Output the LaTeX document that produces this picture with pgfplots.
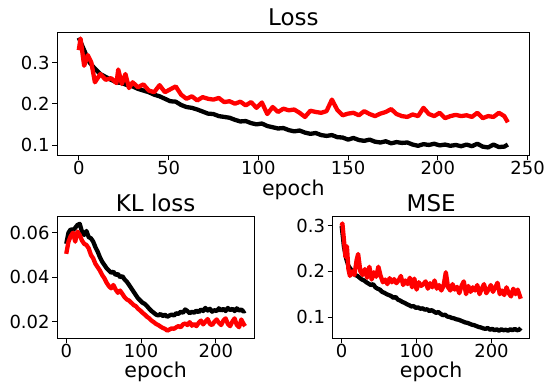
\documentclass[border=0pt]{standalone}
\usepackage{pgfplots}
\pgfplotsset{compat=1.18}
\usepackage{fontspec}
\setmainfont{DejaVu Sans}
\pgfplotsset{
  myax/.style={
    scale only axis,
    anchor=south west,
    scaled ticks=false,
    axis line style={line width=0.8pt},
    tick style={line width=0.8pt, black},
    tick align=outside,
    major tick length=5pt,
    xtick pos=bottom, ytick pos=left,
    xmin=-11.95, xmax=250.95,
    xticklabel style={font=\fontsize{18}{20}\selectfont, anchor=base, inner sep=0pt, yshift=-14.5pt},
    yticklabel style={font=\fontsize{18}{20}\selectfont, anchor=east, inner sep=0pt, xshift=-2.5pt},
    title style={font=\fontsize{23}{26}\selectfont, at={(axis description cs:0.5,1)}, anchor=base, inner sep=0pt, yshift=-1pt},
    xlabel style={font=\fontsize{20.5}{24}\selectfont, at={(axis description cs:0.5,0)}, anchor=base, inner sep=0pt, yshift=-38.7pt},
    xlabel=epoch,
    every axis plot/.append style={line width=4.3pt, line join=round, no marks},
  }
}
\begin{document}
\begin{tikzpicture}
\useasboundingbox (0,0) rectangle (548pt,383pt);
% ---------------- Loss ----------------
\begin{axis}[myax, at={(57.3pt,228pt)}, width=472pt, height=123pt,
  ymin=0.0757, ymax=0.3739,
  xtick={0,50,100,150,200,250}, xticklabels={0,50,100,150,200,250},
  ytick={0.1,0.2,0.3}, yticklabels={0.1,0.2,0.3},
  title=Loss, title style={yshift=1.6pt}, xlabel style={yshift=-2pt}]
\addplot[black] coordinates {
(0,0.360)(3,0.330)(6,0.300)(9,0.285)(12,0.272)(15,0.265)(18,0.258)(21,0.252)(24,0.250)(27,0.245)
(30,0.242)(33,0.236)(36,0.232)(39,0.228)(42,0.222)(45,0.218)(48,0.212)(51,0.206)(54,0.205)(57,0.197)
(60,0.192)(63,0.190)(66,0.186)(69,0.181)(72,0.176)(75,0.175)(78,0.170)(81,0.168)(84,0.166)(87,0.161)
(90,0.157)(93,0.158)(96,0.153)(99,0.150)(102,0.152)(105,0.146)(108,0.143)(111,0.140)(114,0.141)(117,0.136)
(120,0.133)(123,0.135)(126,0.130)(129,0.127)(132,0.129)(135,0.124)(138,0.122)(141,0.124)(144,0.119)(147,0.118)
(150,0.113)(153,0.117)(156,0.112)(159,0.110)(162,0.113)(165,0.108)(168,0.106)(171,0.109)(174,0.104)(177,0.107)
(180,0.105)(183,0.106)(186,0.101)(189,0.098)(192,0.102)(195,0.100)(198,0.103)(201,0.099)(204,0.101)(207,0.098)
(210,0.100)(213,0.097)(216,0.101)(219,0.097)(222,0.103)(225,0.096)(228,0.094)(231,0.101)(234,0.095)(237,0.096)
(239,0.101)};
\addplot[red] coordinates {
(0,0.330)(1,0.358)(3,0.292)(5,0.318)(7,0.300)(9,0.252)(12,0.272)(15,0.258)(18,0.262)(21,0.250)
(22,0.283)(24,0.248)(26,0.272)(28,0.238)(30,0.252)(33,0.240)(36,0.247)(39,0.232)(42,0.228)(45,0.245)
(48,0.228)(51,0.235)(54,0.242)(57,0.222)(60,0.212)(63,0.218)(66,0.208)(69,0.216)(72,0.212)(75,0.210)
(78,0.214)(81,0.204)(84,0.206)(87,0.200)(90,0.205)(93,0.196)(96,0.204)(99,0.190)(102,0.203)(105,0.175)
(108,0.192)(111,0.180)(114,0.188)(117,0.184)(120,0.186)(123,0.178)(126,0.168)(129,0.183)(132,0.180)(135,0.178)
(138,0.182)(141,0.210)(144,0.185)(147,0.172)(150,0.176)(153,0.178)(156,0.172)(159,0.182)(162,0.175)(165,0.170)
(168,0.176)(171,0.180)(174,0.187)(177,0.175)(180,0.170)(183,0.168)(186,0.174)(189,0.170)(192,0.190)(195,0.175)
(198,0.170)(201,0.178)(204,0.165)(207,0.170)(210,0.173)(213,0.170)(216,0.172)(219,0.168)(222,0.178)(225,0.165)
(228,0.170)(231,0.168)(234,0.178)(237,0.170)(239,0.155)};
\end{axis}
% ---------------- KL loss ----------------
\begin{axis}[myax, at={(57.3pt,44.7pt)}, width=196.7pt, height=121.6pt,
  ymin=0.01254, ymax=0.0672,
  xtick={0,100,200}, xticklabels={0,100,200},
  ytick={0.02,0.04,0.06}, yticklabels={0.02,0.04,0.06},
  title=KL loss]
\addplot[black] coordinates {
(0,0.0550)(3,0.0600)(6,0.0615)(9,0.0612)(12,0.0622)(15,0.0635)(18,0.0640)(21,0.0605)(24,0.0590)(27,0.0608)
(30,0.0580)(33,0.0575)(36,0.0560)(39,0.0535)(42,0.0515)(45,0.0490)(48,0.0470)(51,0.0455)(54,0.0440)(57,0.0430)
(60,0.0420)(63,0.0425)(66,0.0410)(69,0.0415)(72,0.0400)(75,0.0405)(78,0.0390)(81,0.0380)(84,0.0365)(87,0.0350)
(90,0.0335)(93,0.0320)(96,0.0305)(99,0.0295)(102,0.0285)(105,0.0280)(108,0.0270)(111,0.0258)(114,0.0248)(117,0.0240)
(120,0.0232)(123,0.0228)(126,0.0235)(129,0.0225)(132,0.0232)(135,0.0222)(138,0.0228)(141,0.0232)(144,0.0228)(147,0.0238)
(150,0.0235)(153,0.0245)(156,0.0240)(159,0.0255)(162,0.0248)(165,0.0238)(168,0.0245)(171,0.0240)(174,0.0250)(177,0.0243)
(180,0.0255)(183,0.0248)(186,0.0262)(189,0.0250)(192,0.0258)(195,0.0245)(198,0.0252)(201,0.0248)(204,0.0260)(207,0.0250)
(210,0.0258)(213,0.0248)(216,0.0262)(219,0.0252)(222,0.0258)(225,0.0248)(228,0.0260)(231,0.0250)(234,0.0255)(237,0.0245)
(239,0.0250)};
\addplot[red] coordinates {
(0,0.0505)(3,0.0560)(6,0.0585)(9,0.0600)(12,0.0560)(15,0.0605)(18,0.0590)(21,0.0565)(24,0.0550)(27,0.0545)
(30,0.0530)(33,0.0500)(36,0.0485)(39,0.0460)(42,0.0445)(45,0.0430)(48,0.0410)(51,0.0395)(54,0.0375)(57,0.0360)
(60,0.0350)(63,0.0365)(66,0.0345)(69,0.0330)(72,0.0340)(75,0.0325)(78,0.0310)(81,0.0300)(84,0.0295)(87,0.0285)
(90,0.0275)(93,0.0270)(96,0.0258)(99,0.0250)(102,0.0240)(105,0.0232)(108,0.0222)(111,0.0215)(114,0.0205)(117,0.0198)
(120,0.0190)(123,0.0185)(126,0.0178)(129,0.0172)(132,0.0168)(135,0.0160)(138,0.0165)(141,0.0170)(144,0.0168)(147,0.0175)
(150,0.0180)(153,0.0175)(156,0.0188)(159,0.0192)(162,0.0185)(165,0.0198)(168,0.0182)(171,0.0190)(174,0.0180)(177,0.0195)
(180,0.0205)(183,0.0188)(186,0.0200)(189,0.0212)(192,0.0190)(195,0.0185)(198,0.0200)(201,0.0210)(204,0.0195)(207,0.0185)
(210,0.0205)(213,0.0215)(216,0.0190)(219,0.0180)(222,0.0200)(225,0.0215)(228,0.0185)(231,0.0175)(234,0.0210)(237,0.0190)
(239,0.0180)};
\end{axis}
% ---------------- MSE ----------------
\begin{axis}[myax, at={(332.7pt,44.7pt)}, width=197pt, height=121.6pt,
  ymin=0.0533, ymax=0.3197,
  xtick={0,100,200}, xticklabels={0,100,200},
  ytick={0.1,0.2,0.3}, yticklabels={0.1,0.2,0.3},
  title=MSE]
\addplot[black] coordinates {
(0,0.300)(3,0.255)(6,0.228)(9,0.212)(12,0.205)(15,0.198)(18,0.192)(21,0.190)(24,0.186)(27,0.182)
(30,0.180)(33,0.176)(36,0.173)(39,0.170)(42,0.172)(45,0.165)(48,0.162)(51,0.160)(54,0.155)(57,0.153)
(60,0.150)(63,0.148)(66,0.146)(69,0.142)(72,0.144)(75,0.138)(78,0.136)(81,0.133)(84,0.131)(87,0.128)
(90,0.126)(93,0.123)(96,0.124)(99,0.120)(102,0.121)(105,0.118)(108,0.119)(111,0.116)(114,0.117)(117,0.113)
(120,0.115)(123,0.112)(126,0.109)(129,0.111)(132,0.107)(135,0.104)(138,0.105)(141,0.101)(144,0.100)(147,0.098)
(150,0.097)(153,0.095)(156,0.094)(159,0.092)(162,0.090)(165,0.088)(168,0.087)(171,0.085)(174,0.083)(177,0.082)
(180,0.080)(183,0.078)(186,0.077)(189,0.075)(192,0.074)(195,0.076)(198,0.072)(201,0.074)(204,0.071)(207,0.073)
(210,0.070)(213,0.073)(216,0.071)(219,0.072)(222,0.070)(225,0.073)(228,0.071)(231,0.074)(234,0.071)(237,0.072)
(239,0.076)};
\addplot[red] coordinates {
(0,0.300)(1,0.305)(3,0.270)(5,0.232)(7,0.255)(9,0.205)(11,0.190)(14,0.200)(17,0.192)(20,0.225)
(22,0.238)(25,0.200)(28,0.192)(31,0.205)(34,0.186)(37,0.210)(40,0.182)(43,0.198)(46,0.188)(49,0.210)
(52,0.190)(55,0.176)(58,0.182)(61,0.172)(64,0.185)(67,0.176)(70,0.183)(73,0.174)(76,0.180)(79,0.190)
(82,0.170)(85,0.180)(88,0.172)(91,0.186)(94,0.165)(97,0.184)(100,0.160)(103,0.176)(106,0.168)(109,0.172)
(112,0.178)(115,0.162)(118,0.174)(121,0.165)(124,0.180)(127,0.162)(130,0.170)(133,0.158)(136,0.168)(139,0.198)
(142,0.165)(145,0.158)(148,0.172)(151,0.160)(154,0.166)(157,0.152)(160,0.168)(163,0.178)(166,0.150)(169,0.168)
(172,0.155)(175,0.165)(178,0.158)(181,0.170)(184,0.150)(187,0.162)(190,0.172)(193,0.152)(196,0.160)(199,0.170)
(202,0.155)(205,0.165)(208,0.175)(211,0.150)(214,0.158)(217,0.148)(220,0.165)(223,0.152)(226,0.145)(229,0.162)
(232,0.150)(235,0.160)(239,0.140)};
\end{axis}
\end{tikzpicture}
\end{document}
